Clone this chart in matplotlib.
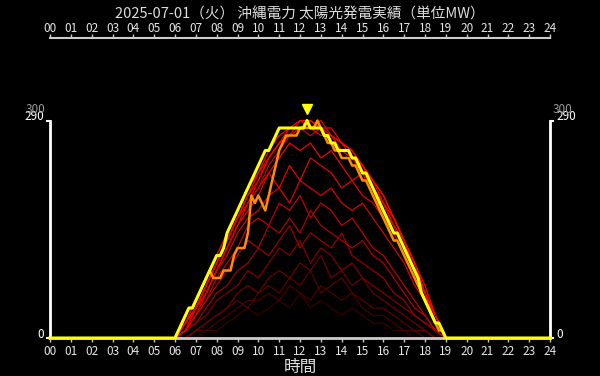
import numpy as np
import matplotlib
matplotlib.use("Agg")
from matplotlib import pyplot as plt

plt.rcParams["font.family"] = ["Noto Sans CJK JP", "DejaVu Sans"]

TITLE = "2025-07-01（火） 沖縄電力 太陽光発電実績（単位MW）"
X_LABEL = "時間"
HOUR_LABELS = [f"{h:02d}" for h in range(25)]

# today, every 10 min from 06:00 to 19:00
today = [
    0, 10, 20, 30, 40, 40,
    50, 60, 70, 80, 90, 100,
    110, 110, 120, 140, 150, 160,
    170, 180, 190, 200, 210, 220,
    230, 240, 250, 250, 260, 270,
    280, 280, 280, 280, 280, 280,
    280, 280, 290, 280, 280, 280,
    280, 270, 270, 260, 260, 250,
    250, 250, 250, 240, 240, 230,
    220, 220, 210, 200, 190, 180,
    170, 160, 150, 140, 140, 130,
    120, 110, 100, 90, 80, 60,
    50, 40, 30, 20, 20, 10,
    0,
]

# highlighted earlier day, every 10 min from 06:00 to 19:00
other_day = [
    0, 10, 20, 30, 40, 40,
    50, 60, 70, 80, 90, 80,
    80, 80, 90, 90, 90, 110,
    120, 120, 120, 140, 190, 180,
    190, 180, 170, 190, 210, 230,
    250, 260, 270, 270, 270, 270,
    280, 280, 280, 280, 280, 290,
    280, 270, 260, 260, 250, 250,
    240, 240, 240, 230, 230, 220,
    210, 210, 200, 190, 180, 170,
    160, 150, 140, 130, 130, 120,
    110, 100, 90, 80, 70, 60,
    50, 40, 30, 20, 10, 10,
    0,
]

# past days, every 30 min from 06:00 to 19:00 (darkest = oldest)
past_days = [
    [0, 0, 0, 10, 10, 20, 30, 40, 30, 40, 50, 40, 60, 40, 50, 40, 30, 40, 30, 20, 20, 10, 10, 0, 0, 0, 0],
    [0, 0, 10, 10, 20, 30, 40, 50, 50, 60, 50, 70, 60, 50, 70, 60, 50, 60, 40, 30, 30, 20, 10, 10, 0, 0, 0],
    [0, 0, 10, 20, 30, 40, 50, 40, 60, 70, 60, 80, 70, 90, 60, 70, 80, 60, 50, 40, 40, 30, 20, 10, 10, 0, 0],
    [0, 0, 10, 20, 30, 40, 60, 70, 60, 80, 90, 80, 100, 90, 110, 80, 90, 70, 80, 60, 50, 40, 30, 20, 10, 0, 0],
    [0, 10, 20, 30, 50, 60, 70, 90, 80, 100, 120, 110, 130, 100, 120, 110, 90, 100, 80, 70, 60, 50, 40, 30, 20, 10, 0],
    [0, 10, 20, 40, 60, 70, 90, 100, 120, 110, 130, 150, 120, 140, 130, 120, 140, 110, 100, 90, 80, 60, 50, 30, 20, 10, 0],
    [0, 10, 30, 50, 70, 90, 110, 130, 120, 150, 140, 160, 140, 170, 150, 140, 130, 120, 130, 110, 100, 80, 60, 40, 30, 10, 0],
    [0, 10, 30, 50, 80, 100, 120, 150, 160, 150, 180, 170, 190, 160, 180, 170, 150, 160, 140, 120, 110, 90, 70, 50, 30, 10, 0],
    [0, 10, 30, 60, 90, 110, 140, 160, 170, 190, 200, 180, 210, 200, 190, 200, 180, 170, 180, 160, 140, 120, 100, 70, 50, 20, 0],
    [0, 10, 40, 60, 90, 120, 150, 170, 190, 220, 200, 230, 210, 240, 230, 220, 200, 210, 190, 180, 160, 140, 110, 80, 50, 20, 0],
    [0, 20, 40, 70, 100, 130, 160, 180, 200, 220, 240, 260, 250, 260, 240, 250, 230, 210, 220, 190, 170, 150, 120, 90, 60, 30, 0],
    [0, 10, 30, 60, 90, 120, 150, 180, 200, 230, 250, 270, 280, 270, 280, 260, 250, 240, 220, 200, 180, 150, 120, 90, 60, 20, 0],
    [0, 10, 40, 60, 90, 120, 150, 180, 210, 240, 260, 270, 280, 280, 270, 270, 250, 240, 230, 200, 180, 150, 130, 90, 60, 20, 0],
    [0, 20, 40, 70, 100, 130, 160, 190, 210, 240, 260, 270, 290, 280, 290, 270, 260, 240, 230, 210, 180, 160, 130, 100, 60, 30, 0],
    [0, 20, 40, 70, 100, 130, 160, 190, 220, 240, 260, 280, 280, 290, 280, 280, 260, 250, 230, 210, 190, 160, 130, 100, 70, 30, 0],
    [0, 20, 50, 80, 110, 140, 170, 200, 220, 250, 270, 280, 290, 290, 280, 270, 260, 250, 230, 210, 190, 160, 130, 100, 60, 30, 0],
]
past_shade = [0.22, 0.28, 0.35, 0.42, 0.5, 0.6, 0.68, 0.75, 0.85, 0.9, 0.95, 0.8, 0.88, 0.93, 0.97, 1.0]

t10 = np.arange(6 * 60, 19 * 60 + 1, 10) / 60
t30 = np.arange(6 * 60, 19 * 60 + 1, 30) / 60

fig = plt.figure(figsize=(6, 3.76), dpi=100, facecolor="black")
ax = fig.add_axes([50 / 600, 38 / 376, 500 / 600, 300 / 376])
ax.set_facecolor("black")

for vals, shade in zip(past_days, past_shade):
    ax.plot(t30, vals, color=(shade, 0, 0), lw=0.9)

ax.plot(t10, other_day, color="#ff8c00", lw=1.8)

# today spans the whole day, zero outside daylight
x_today = np.concatenate([[0], t10, [24]])
y_today = np.concatenate([[0], today, [0]])
ax.plot(x_today, y_today, color="#ffff00", lw=2.2, clip_on=False, zorder=5)

peak = int(np.argmax(today))
ax.plot(t10[peak], today[peak] + 15, marker="v", color="#ffff00", ms=7,
        clip_on=False, zorder=6)

ax.set_xlim(0, 24)
ax.set_ylim(0, 400)
ax.set_xticks(range(25))
ax.set_xticklabels(HOUR_LABELS)
ax.tick_params(axis="x", bottom=True, labelbottom=True, top=False, labeltop=False,
               colors="#cccccc", labelcolor="#e6e6e6", labelsize=8.5,
               length=3, width=1, pad=2)

top = ax.secondary_xaxis("top")
top.set_xticks(range(25))
top.set_xticklabels(HOUR_LABELS)
top.tick_params(colors="#cccccc", labelcolor="#e6e6e6", labelsize=8.5,
                length=3, width=1, pad=-1)
top.spines["top"].set_color("#cccccc")
top.spines["top"].set_linewidth(1.5)

ymax = 290
ax.set_yticks([0, ymax])
ax.set_yticklabels(["0", str(ymax)])
ax.tick_params(axis="y", left=True, right=True, labelleft=True, labelright=True,
               colors="white", labelcolor="white", labelsize=8.5,
               length=3, width=1.5, pad=1.5)
for tick in ax.yaxis.get_major_ticks():
    tick.label1.set_verticalalignment("baseline")
    tick.label2.set_verticalalignment("baseline")

ax.text(-0.01, 300, "300", color="#999999", fontsize=8.5, ha="right",
        va="baseline", transform=ax.get_yaxis_transform())
ax.text(1.006, 300, "300", color="#999999", fontsize=8.5, ha="left",
        va="baseline", transform=ax.get_yaxis_transform())

for side in ["left", "right"]:
    ax.spines[side].set_color("white")
    ax.spines[side].set_linewidth(2)
    ax.spines[side].set_bounds(0, ymax)
ax.spines["bottom"].set_color("#cccccc")
ax.spines["bottom"].set_linewidth(2)
ax.spines["top"].set_visible(False)

fig.text(0.5, 1 - 14 / 376, TITLE, ha="center", va="center", fontsize=10.5,
         color="#dddddd")
fig.text(0.5, 1 - 367 / 376, X_LABEL, ha="center", va="center", fontsize=12,
         color="#dddddd")

fig.savefig("out.png", dpi=100, facecolor="black")
